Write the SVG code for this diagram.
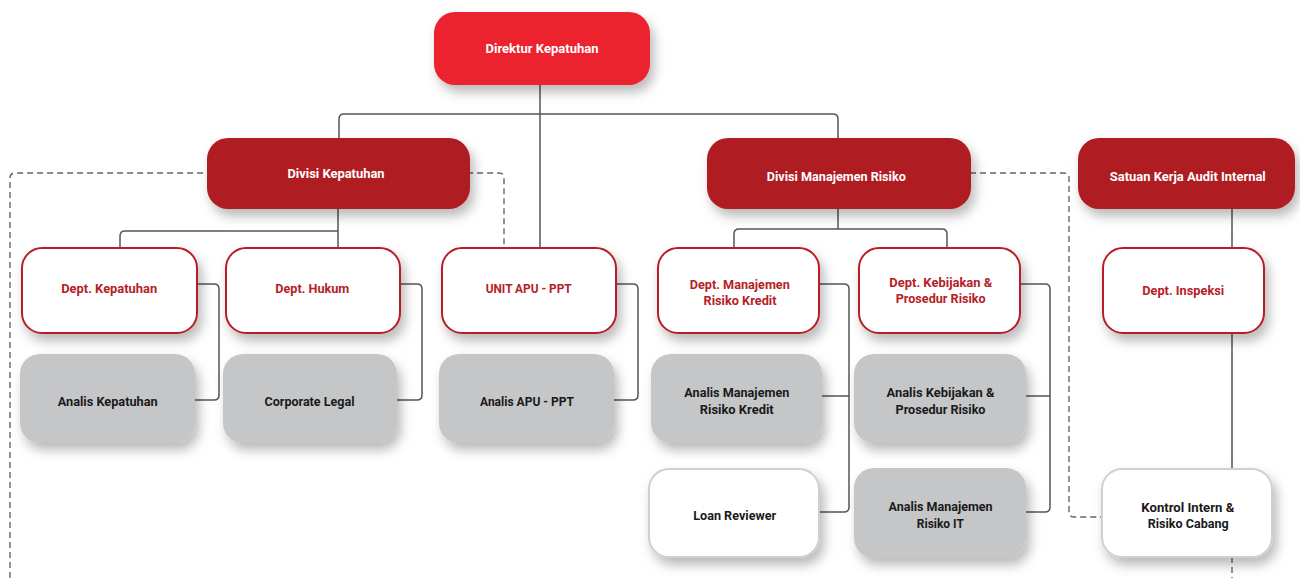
<svg xmlns="http://www.w3.org/2000/svg" width="1300" height="578" viewBox="0 0 1300 578">
  <defs>
    <filter id="shadow" x="-20%" y="-30%" width="150%" height="180%">
      <feDropShadow dx="4" dy="7" stdDeviation="6" flood-color="#000" flood-opacity="0.28"/>
    </filter>
  </defs>
  <style>
    .lbl { font-family: Roboto, "Liberation Sans", sans-serif; font-weight: 700; font-size: 13px; text-anchor: middle; }
    .top { fill: #EC222F; filter: url(#shadow); }
    .div { fill: #AF1F22; filter: url(#shadow); }
    .dept { fill: #FFFFFF; stroke: #B81F25; stroke-width: 2; filter: url(#shadow); }
    .staff { fill: #C5C6C8; filter: url(#shadow); }
    .plain { fill: #FFFFFF; stroke: #CFCFCF; stroke-width: 2; filter: url(#shadow); }
    .w { fill: #FFFFFF; }
    .r { fill: #B52127; }
    .k { fill: #1A1A1A; }
    .line { fill: none; stroke: #555555; stroke-width: 1.5; }
    .dash { fill: none; stroke: #666666; stroke-width: 1.4; stroke-dasharray: 6 4; }
  </style>

  <!-- connectors -->
  <g id="connectors">
    <path class="dash" d="M10,578 V178 Q10,173 15,173 H499 Q504,173 504,178 V248"/>
    <path class="dash" d="M970,173 H1064 Q1069,173 1069,178 V512 Q1069,517 1074,517 H1102"/>
    <path class="dash" d="M1232,557 V578"/>
    <path class="line" d="M540,85 V248"/>
    <path class="line" d="M339,138 V119 Q339,114 344,114 H833 Q838,114 838,119 V138"/>
    <path class="line" d="M338,209 V248"/>
    <path class="line" d="M120,248 V236 Q120,231 125,231 H338"/>
    <path class="line" d="M838,209 V229"/>
    <path class="line" d="M734,248 V234 Q734,229 739,229 H942 Q947,229 947,234 V248"/>
    <path class="line" d="M1232,209 V469"/>
    <path class="line" d="M197,284 H214 Q219,284 219,289 V395 Q219,400 214,400 H195"/>
    <path class="line" d="M400,284 H417 Q422,284 422,289 V395 Q422,400 417,400 H397"/>
    <path class="line" d="M616,284 H633 Q638,284 638,289 V395 Q638,400 633,400 H614"/>
    <path class="line" d="M819,284 H844 Q849,284 849,289 V507 Q849,512 844,512 H819"/>
    <path class="line" d="M822,396 H849"/>
    <path class="line" d="M1020,284 H1045 Q1050,284 1050,289 V507 Q1050,512 1045,512 H1026"/>
    <path class="line" d="M1026,396 H1050"/>
  </g>

  <!-- top level -->
  <g id="direktur-kepatuhan">
    <rect class="top" x="434" y="12" width="216" height="73" rx="21"/>
    <text class="lbl w" x="542" y="52.5" textLength="113" lengthAdjust="spacingAndGlyphs">Direktur Kepatuhan</text>
  </g>

  <!-- divisions -->
  <g id="divisi-kepatuhan">
    <rect class="div" x="207" y="138" width="263" height="71" rx="21"/>
    <text class="lbl w" x="336" y="178.3" textLength="97" lengthAdjust="spacingAndGlyphs">Divisi Kepatuhan</text>
  </g>
  <g id="divisi-manajemen-risiko">
    <rect class="div" x="707" y="138" width="264" height="71" rx="21"/>
    <text class="lbl w" x="836.3" y="181" textLength="139" lengthAdjust="spacingAndGlyphs">Divisi Manajemen Risiko</text>
  </g>
  <g id="satuan-kerja-audit-internal">
    <rect class="div" x="1078" y="138" width="217" height="71" rx="21"/>
    <text class="lbl w" x="1187.8" y="181" textLength="156" lengthAdjust="spacingAndGlyphs">Satuan Kerja Audit Internal</text>
  </g>

  <!-- departments -->
  <g id="dept-kepatuhan">
    <rect class="dept" x="22" y="248" width="175" height="85" rx="20"/>
    <text class="lbl r" x="109.2" y="293.3" textLength="96" lengthAdjust="spacingAndGlyphs">Dept. Kepatuhan</text>
  </g>
  <g id="dept-hukum">
    <rect class="dept" x="226" y="248" width="174" height="85" rx="20"/>
    <text class="lbl r" x="312.3" y="293.3" textLength="74" lengthAdjust="spacingAndGlyphs">Dept. Hukum</text>
  </g>
  <g id="unit-apu-ppt">
    <rect class="dept" x="442" y="248" width="174" height="85" rx="20"/>
    <text class="lbl r" x="528.7" y="293.3" textLength="86" lengthAdjust="spacingAndGlyphs">UNIT APU - PPT</text>
  </g>
  <g id="dept-manajemen-risiko-kredit">
    <rect class="dept" x="658" y="248" width="161" height="85" rx="20"/>
    <text class="lbl r" x="739.8" y="289.3" textLength="100" lengthAdjust="spacingAndGlyphs">Dept. Manajemen</text>
    <text class="lbl r" x="740" y="305" textLength="73" lengthAdjust="spacingAndGlyphs">Risiko Kredit</text>
  </g>
  <g id="dept-kebijakan-prosedur-risiko">
    <rect class="dept" x="859" y="248" width="161" height="85" rx="20"/>
    <text class="lbl r" x="940.8" y="287.3" textLength="103" lengthAdjust="spacingAndGlyphs">Dept. Kebijakan &amp;</text>
    <text class="lbl r" x="940.7" y="303.3" textLength="90" lengthAdjust="spacingAndGlyphs">Prosedur Risiko</text>
  </g>
  <g id="dept-inspeksi">
    <rect class="dept" x="1103" y="248" width="161" height="85" rx="20"/>
    <text class="lbl r" x="1183.2" y="295" textLength="82" lengthAdjust="spacingAndGlyphs">Dept. Inspeksi</text>
  </g>

  <!-- staff units -->
  <g id="analis-kepatuhan">
    <rect class="staff" x="20" y="354" width="175" height="89" rx="20"/>
    <text class="lbl k" x="107.7" y="406" textLength="100" lengthAdjust="spacingAndGlyphs">Analis Kepatuhan</text>
  </g>
  <g id="corporate-legal">
    <rect class="staff" x="223" y="354" width="174" height="89" rx="20"/>
    <text class="lbl k" x="309.5" y="406" textLength="90" lengthAdjust="spacingAndGlyphs">Corporate Legal</text>
  </g>
  <g id="analis-apu-ppt">
    <rect class="staff" x="439" y="354" width="175" height="89" rx="20"/>
    <text class="lbl k" x="527" y="406" textLength="94" lengthAdjust="spacingAndGlyphs">Analis APU - PPT</text>
  </g>
  <g id="analis-manajemen-risiko-kredit">
    <rect class="staff" x="651" y="354" width="171" height="89" rx="20"/>
    <text class="lbl k" x="736.8" y="397.3" textLength="105" lengthAdjust="spacingAndGlyphs">Analis Manajemen</text>
    <text class="lbl k" x="736.7" y="414" textLength="74" lengthAdjust="spacingAndGlyphs">Risiko Kredit</text>
  </g>
  <g id="analis-kebijakan-prosedur-risiko">
    <rect class="staff" x="854" y="354" width="172" height="89" rx="20"/>
    <text class="lbl k" x="940.5" y="397.3" textLength="108" lengthAdjust="spacingAndGlyphs">Analis Kebijakan &amp;</text>
    <text class="lbl k" x="940.5" y="414" textLength="90" lengthAdjust="spacingAndGlyphs">Prosedur Risiko</text>
  </g>
  <g id="loan-reviewer">
    <rect class="plain" x="649" y="469" width="170" height="88" rx="20"/>
    <text class="lbl k" x="734.7" y="520" textLength="83" lengthAdjust="spacingAndGlyphs">Loan Reviewer</text>
  </g>
  <g id="analis-manajemen-risiko-it">
    <rect class="staff" x="854" y="468" width="172" height="90" rx="20"/>
    <text class="lbl k" x="940.5" y="510.7" textLength="104" lengthAdjust="spacingAndGlyphs">Analis Manajemen</text>
    <text class="lbl k" x="940.3" y="527.7" textLength="47" lengthAdjust="spacingAndGlyphs">Risiko IT</text>
  </g>
  <g id="kontrol-intern-risiko-cabang">
    <rect class="plain" x="1102" y="469" width="170" height="88" rx="20"/>
    <text class="lbl k" x="1187.8" y="511.7" textLength="93" lengthAdjust="spacingAndGlyphs">Kontrol Intern &amp;</text>
    <text class="lbl k" x="1188.2" y="528.3" textLength="81" lengthAdjust="spacingAndGlyphs">Risiko Cabang</text>
  </g>
</svg>
